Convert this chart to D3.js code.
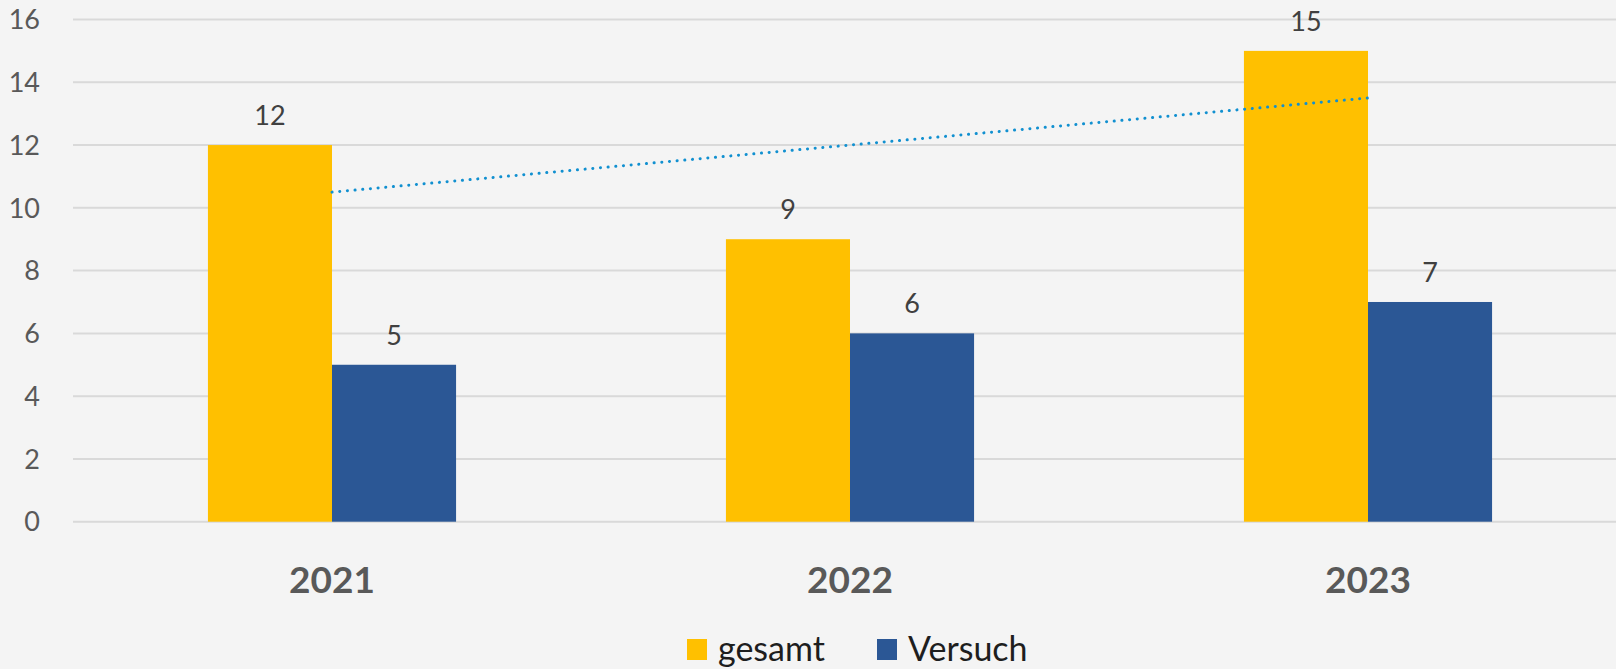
<!DOCTYPE html>
<html lang="de">
<head>
  <meta charset="UTF-8">
  <title>gesamt / Versuch 2021-2023</title>
  <script src="https://d3js.org/d3.v7.min.js"></script>
  <style>
    body { margin: 0; background: #f4f4f4; }
    svg { display: block; font-family: Lato, "Open Sans", sans-serif; }
  </style>
</head>
<body>
  <svg width="1616" height="669"></svg>
  <script>
    // chart data
    const years = ["2021", "2022", "2023"];
    const seriesNames = ["gesamt", "Versuch"];
    const gesamt = [12, 9, 15];
    const versuch = [5, 6, 7];
    const yTicks = [0, 2, 4, 6, 8, 10, 12, 14, 16];
    const colors = ["#ffc000", "#2b5795"];

    const svg = d3.select("svg");
    const width = 1616;

    svg.append("rect").attr("width", width).attr("height", 669).attr("fill", "#f4f4f4");

    const y = d3.scaleLinear().domain([0, 16]).range([521.7, 19.5]);
    const x = d3.scaleBand().domain(years).range([73, 1627])
      .paddingInner(0.521).paddingOuter(0.2605);
    const xs = d3.scaleBand().domain(seriesNames).range([0, x.bandwidth()]);

    // gridlines
    svg.append("g").selectAll("line")
      .data(yTicks)
      .join("line")
      .attr("x1", 73).attr("x2", 1627)
      .attr("y1", d => y(d)).attr("y2", d => y(d))
      .attr("stroke", "#d9d9d9").attr("stroke-width", 2);

    // y tick labels
    svg.append("g").selectAll("text")
      .data(yTicks)
      .join("text")
      .attr("x", 40).attr("y", d => y(d)).attr("dy", "0.36em")
      .attr("text-anchor", "end")
      .attr("font-size", 27).attr("fill", "#595959")
      .text(d => d);

    // bars
    const rows = years.map((yr, i) => ({ year: yr, values: [gesamt[i], versuch[i]] }));
    const groups = svg.append("g").selectAll("g")
      .data(rows)
      .join("g")
      .attr("transform", d => `translate(${x(d.year)},0)`);

    groups.selectAll("rect")
      .data(d => d.values.map((v, j) => ({ name: seriesNames[j], value: v, c: colors[j] })))
      .join("rect")
      .attr("x", d => xs(d.name))
      .attr("width", xs.bandwidth())
      .attr("y", d => y(d.value))
      .attr("height", d => y(0) - y(d.value))
      .attr("fill", d => d.c);

    // data labels
    groups.selectAll("text")
      .data(d => d.values.map((v, j) => ({ name: seriesNames[j], value: v })))
      .join("text")
      .attr("x", d => xs(d.name) + xs.bandwidth() / 2)
      .attr("y", d => y(d.value) - 20)
      .attr("text-anchor", "middle")
      .attr("font-size", 27).attr("fill", "#404040")
      .text(d => d.value);

    // linear trendline of gesamt
    const idx = gesamt.map((_, i) => i + 1);
    const mx = d3.mean(idx), my = d3.mean(gesamt);
    const slope = d3.sum(idx, (k, i) => (k - mx) * (gesamt[i] - my)) / d3.sum(idx, k => (k - mx) ** 2);
    const icpt = my - slope * mx;
    const trend = [0, years.length - 1].map(i => ({ year: years[i], v: icpt + slope * (i + 1) }));

    svg.append("path")
      .datum(trend)
      .attr("d", d3.line().x(d => x(d.year) + x.bandwidth() / 2).y(d => y(d.v)))
      .attr("fill", "none")
      .attr("stroke", "#1190d0")
      .attr("stroke-width", 3)
      .attr("stroke-linecap", "round")
      .attr("stroke-dasharray", "0.1 7.6");

    // year labels
    svg.append("g").selectAll("text")
      .data(years)
      .join("text")
      .attr("x", d => x(d) + x.bandwidth() / 2)
      .attr("y", 593)
      .attr("text-anchor", "middle")
      .attr("font-size", 37).attr("font-weight", "bold").attr("fill", "#595959")
      .text(d => d);

    // legend
    const legendX = [687, 877];
    const legend = svg.append("g").selectAll("g")
      .data(seriesNames)
      .join("g")
      .attr("transform", (d, i) => `translate(${legendX[i]},639)`);
    legend.append("rect")
      .attr("width", 20).attr("height", 21)
      .attr("fill", (d, i) => colors[i]);
    legend.append("text")
      .attr("x", 31).attr("y", 22)
      .attr("font-size", 34).attr("fill", "#1e1e1e")
      .text(d => d);
  </script>
</body>
</html>
